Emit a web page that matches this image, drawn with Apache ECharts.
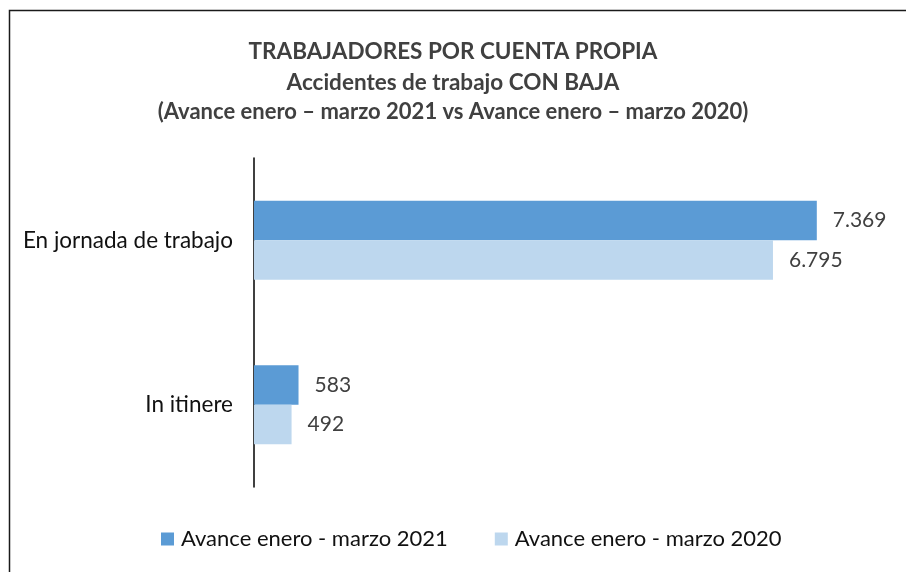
<!DOCTYPE html>
<html><head><meta charset="utf-8">
<script src="https://cdn.jsdelivr.net/npm/echarts@6/dist/echarts.min.js"></script>
<style>html,body{margin:0;padding:0;background:#fff}#c{width:906px;height:572px}</style>
</head><body><div id="c"></div>
<script>
const categories = ['En jornada de trabajo', 'In itinere'];
const seriesNames = ['Avance enero - marzo 2021', 'Avance enero - marzo 2020'];
const values2021 = [7369, 583];
const values2020 = [6795, 492];
const titleLines = ['TRABAJADORES POR CUENTA PROPIA', 'Accidentes de trabajo CON BAJA', '(Avance enero \u2013 marzo 2021 vs Avance enero \u2013 marzo 2020)'];

const FONT = 'Lato';
const fmt = v => v.toLocaleString('de-DE');
const chart = echarts.init(document.getElementById('c'));
chart.setOption({
  animation: false,
  backgroundColor: '#fff',
  graphic: [{type: 'rect', shape: {x: 9.5, y: 10.5, width: 1000, height: 1000}, style: {fill: 'none', stroke: '#1a1a1a', lineWidth: 1.5}}],
  title: [
    {text: titleLines[0], left: 'center', top: 35, textStyle: {fontFamily: FONT, fontSize: 22.5, fontWeight: 'bold', color: '#404040'}},
    {text: titleLines[1], left: 'center', top: 66, textStyle: {fontFamily: FONT, fontSize: 22.5, fontWeight: 'bold', color: '#404040'}},
    {text: titleLines[2], left: 'center', top: 96, textStyle: {fontFamily: FONT, fontSize: 22, fontWeight: 'bold', color: '#404040'}}
  ],
  grid: {left: 254, top: 158, width: 611, height: 329, containLabel: false},
  xAxis: {type: 'value', min: 0, max: 8000, show: false},
  yAxis: {type: 'category', data: categories, inverse: true,
    axisLine: {lineStyle: {color: '#000', width: 1.5}}, axisTick: {show: false},
    axisLabel: {margin: 21, fontFamily: FONT, fontSize: 22.5, color: '#111'}},
  legend: {bottom: 17, left: 156, itemWidth: 13, itemHeight: 13, itemGap: 47, icon: 'rect',
    textStyle: {fontFamily: FONT, fontSize: 22, color: '#111', padding: [0, 0, 0, 2]}, data: seriesNames},
  series: [
    {name: seriesNames[0], type: 'bar', data: values2021, barGap: '0%', barCategoryGap: '52%',
      itemStyle: {color: '#5B9BD5'},
      label: {show: true, position: 'right', distance: 16, fontFamily: FONT, fontSize: 21, color: '#404040', formatter: p => fmt(p.value)}},
    {name: seriesNames[1], type: 'bar', data: values2020, barGap: '0%', barCategoryGap: '52%',
      itemStyle: {color: '#BDD7EE'},
      label: {show: true, position: 'right', distance: 16, fontFamily: FONT, fontSize: 21, color: '#404040', formatter: p => fmt(p.value)}}
  ]
});
</script></body></html>
